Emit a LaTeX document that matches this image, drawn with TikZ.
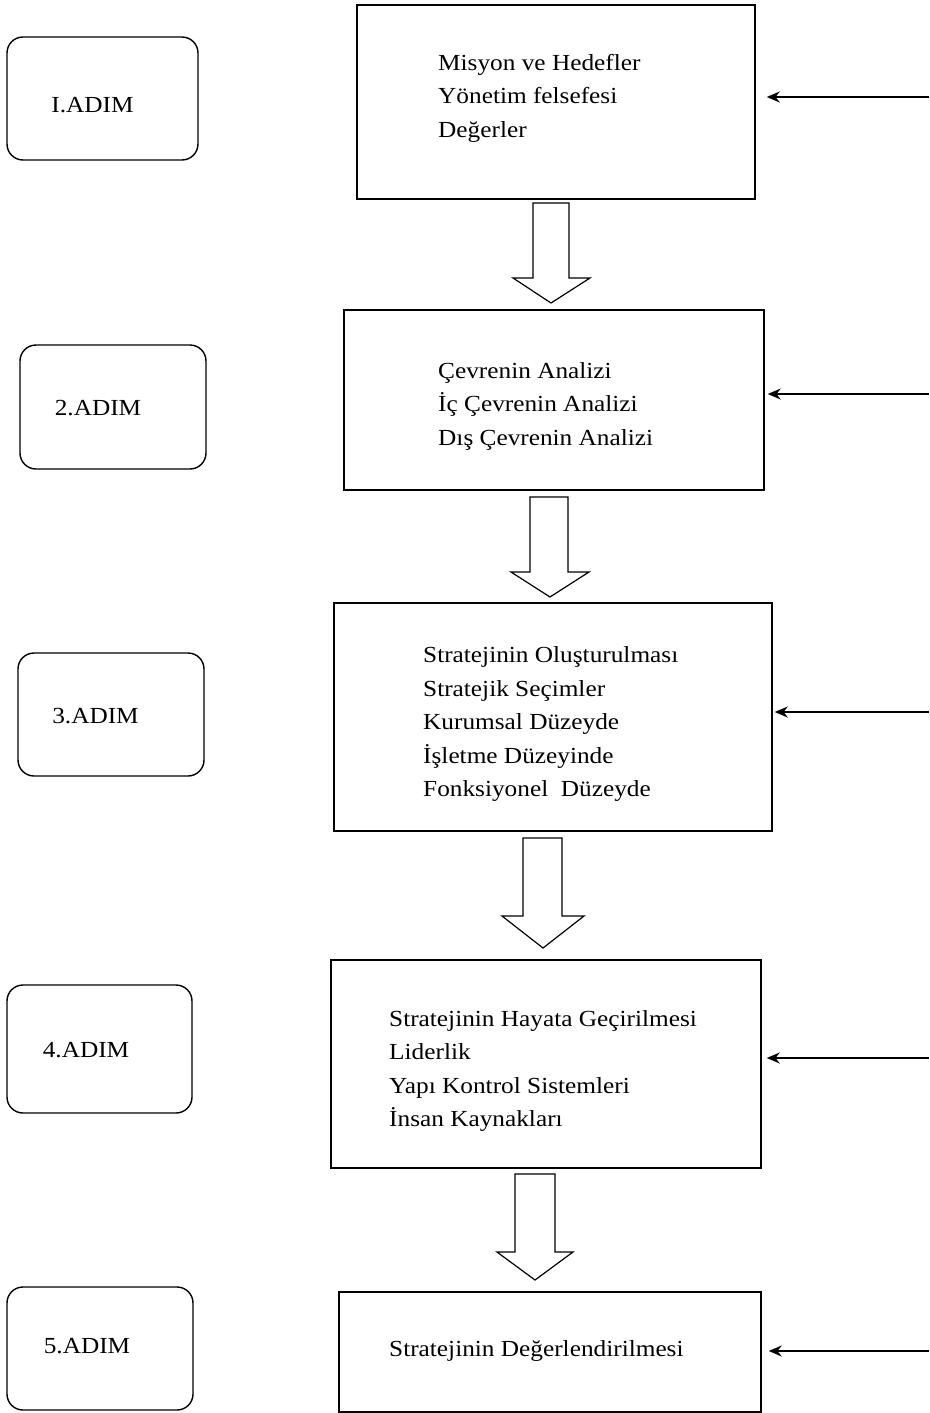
\documentclass[tikz,border=0pt]{standalone}
\usepackage{fontspec}
\setmainfont{Liberation Serif}[FakeStretch=1.1]
\usetikzlibrary{arrows.meta}
\tikzset{
  stepbox/.style={draw, line width=1.5pt, minimum width=#1, inner sep=0pt},
  adimbox/.style={draw, line width=1.4pt, rounded corners=16pt, inner sep=0pt},
  lbl/.style={inner sep=0pt, font=\fontsize{23}{33.5}\selectfont},
  txt/.style={inner sep=0pt, align=left, anchor=west, font=\fontsize{23}{33.5}\selectfont},
  blockarrow/.style={draw, line width=1.2pt, fill=white, line join=miter},
  feed/.style={line width=1.6pt, -{Stealth[length=13pt,width=11pt]}},
}
\begin{document}
\begin{tikzpicture}[x=1pt,y=-1pt]
\useasboundingbox (0,0) rectangle (929,1413);
% left step labels
\node[adimbox, minimum width=191, minimum height=123] (l1) at (102.5,98.5) {};
\node[adimbox, minimum width=186, minimum height=124] (l2) at (113,407) {};
\node[adimbox, minimum width=186, minimum height=123] (l3) at (111,714.5) {};
\node[adimbox, minimum width=185, minimum height=128] (l4) at (99.5,1049) {};
\node[adimbox, minimum width=186, minimum height=123] (l5) at (100,1348.5) {};
\node[lbl] (n1) at (92.5,105) {I.ADIM};
\node[lbl] (n2) at (98,408) {2.ADIM};
\node[lbl] (n3) at (95.5,716) {3.ADIM};
\node[lbl] (n4) at (86,1050) {4.ADIM};
\node[lbl] (n5) at (87,1346) {5.ADIM};
% main boxes
\node[stepbox=398, minimum height=194] (b1) at (556,102) {};
\node[stepbox=420, minimum height=180] (b2) at (554,400) {};
\node[stepbox=438, minimum height=228] (b3) at (553,717) {};
\node[stepbox=430, minimum height=208] (b4) at (546,1064) {};
\node[stepbox=422, minimum height=120] (b5) at (550,1352) {};
% texts
\node[txt] (t1) at (438,98) {Misyon ve Hedefler\\Yönetim felsefesi\\Değerler};
\node[txt] (t2) at (438,406) {Çevrenin Analizi\\İç Çevrenin Analizi\\Dış Çevrenin Analizi};
\node[txt] (t3) at (423,724) {Stratejinin Oluşturulması\\Stratejik Seçimler\\Kurumsal Düzeyde\\İşletme Düzeyinde\\Fonksiyonel\ \ Düzeyde};
\node[txt] (t4) at (389,1071) {Stratejinin Hayata Geçirilmesi\\Liderlik\\Yapı Kontrol Sistemleri\\İnsan Kaynakları};
\node[txt] (t5) at (389,1351) {Stratejinin Değerlendirilmesi};
% block arrows between boxes
\draw[blockarrow] (533,203) -- (533,278) -- (513,278) -- (551,303) -- (590,278) -- (569,278) -- (569,203) -- cycle;
\draw[blockarrow] (530,497) -- (530,572) -- (511,572) -- (550,597) -- (589,572) -- (568,572) -- (568,497) -- cycle;
\draw[blockarrow] (523,838) -- (523,916) -- (502,916) -- (543,948) -- (584,916) -- (562,916) -- (562,838) -- cycle;
\draw[blockarrow] (515,1174) -- (515,1252) -- (497,1252) -- (535,1280) -- (573,1252) -- (555,1252) -- (555,1174) -- cycle;
% feedback arrows from right
\coordinate (r1) at (929,97);
\coordinate (r2) at (929,394);
\coordinate (r3) at (929,712);
\coordinate (r4) at (929,1058);
\coordinate (r5) at (929,1351);
\draw[feed] (r1) -- ([xshift=11pt]b1.east |- r1);
\draw[feed] (r2) -- ([xshift=3pt]b2.east |- r2);
\draw[feed] (r3) -- ([xshift=2pt]b3.east |- r3);
\draw[feed] (r4) -- ([xshift=5pt]b4.east |- r4);
\draw[feed] (r5) -- ([xshift=7pt]b5.east |- r5);
\end{tikzpicture}
\end{document}
